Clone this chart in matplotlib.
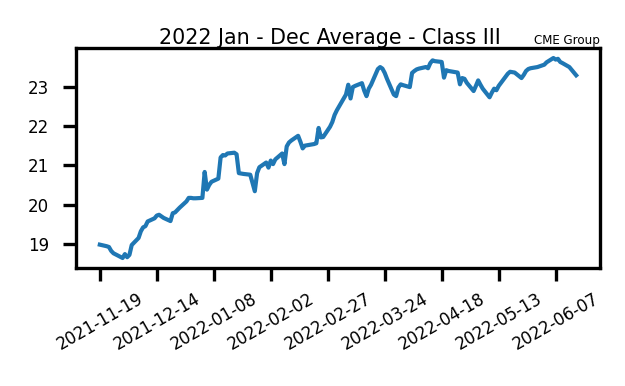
import numpy as np
import pandas as pd
import matplotlib
matplotlib.use("Agg")
import matplotlib.pyplot as plt
import matplotlib.dates as mdates

# Class III average price, one value per business day from 2021-11-19
start = "2021-11-19"
values = [
    18.98, 18.94, 18.92, 18.82, 18.76, 18.73, 18.64, 18.74, 18.66, 18.72,
    18.97, 19.15, 19.32, 19.42, 19.45, 19.57, 19.65, 19.72, 19.74, 19.70,
    19.66, 19.58, 19.78, 19.80, 19.86, 19.92, 20.08, 20.17, 20.17, 20.16,
    20.16, 20.17, 20.83, 20.38, 20.50, 20.58, 20.66, 21.20, 21.26, 21.25,
    21.30, 21.32, 21.28, 20.80, 20.79, 20.78, 20.76, 20.55, 20.34, 20.80,
    20.95, 21.07, 20.94, 21.12, 21.03, 21.15, 21.30, 21.03, 21.48, 21.58,
    21.63, 21.75, 21.60, 21.43, 21.50, 21.51, 21.54, 21.56, 21.95, 21.71,
    21.72, 21.98, 22.10, 22.28, 22.40, 22.50, 22.80, 23.05, 22.70, 22.99,
    23.02, 23.09, 22.90, 22.76, 22.95, 23.05, 23.45, 23.50, 23.46, 23.35,
    23.20, 22.80, 22.76, 22.98, 23.06, 23.04, 22.99, 23.35, 23.40, 23.44,
    23.46, 23.50, 23.47, 23.60, 23.67, 23.65, 23.63, 23.23, 23.42, 23.40,
    23.39, 23.36, 23.06, 23.22, 23.20, 23.10, 22.89, 23.02, 23.16, 23.05,
    22.95, 22.73, 22.85, 22.95, 22.91, 23.02, 23.25, 23.33, 23.38, 23.37,
    23.36, 23.22, 23.30, 23.40, 23.45, 23.47, 23.50, 23.52, 23.54, 23.56,
    23.62, 23.73, 23.69, 23.71, 23.63, 23.60, 23.50, 23.43, 23.36, 23.29,
]
dates = pd.bdate_range(start, periods=len(values))
tick_dates = pd.date_range(start, periods=9, freq="25D")

fig = plt.figure(figsize=(6.25, 3.86), dpi=100)
ax = fig.add_axes([0.1216, 0.3057, 0.8384, 0.5699])

ax.plot(dates, values, color="#1f77b4", linewidth=3.0)

ax.set_xticks(tick_dates)
ax.xaxis.set_major_formatter(mdates.DateFormatter("%Y-%m-%d"))
plt.setp(ax.get_xticklabels(), rotation=30, ha="center")

for s in ax.spines.values():
    s.set_linewidth(2.4)
ax.tick_params(axis="both", length=9.6, width=2.4, labelsize=12)
ax.tick_params(axis="y", pad=10)
ax.tick_params(axis="x", pad=6)

ax.set_title("2022 Jan - Dec Average - Class III", fontsize=14.9, x=0.484, pad=4)
ax.set_title("CME Group", loc="right", fontsize=8.6, pad=2)

fig.savefig("out.png", dpi=100)
